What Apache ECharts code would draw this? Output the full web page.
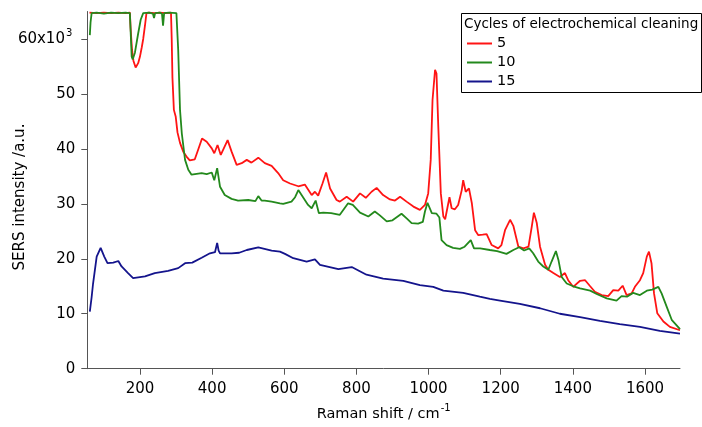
<!DOCTYPE html>
<html>
<head>
<meta charset="utf-8">
<script src="https://cdn.jsdelivr.net/npm/echarts@6/dist/echarts.min.js"></script>
<style>
  html, body { margin: 0; padding: 0; background: #fff; }
  #chart { width: 702px; height: 427px; }
</style>
</head>
<body>
<div id="chart"></div>
<script>
// SERS spectra after 5, 10 and 15 cycles of electrochemical cleaning.
// Raman shift in cm^-1, intensity in units of 10^3 counts.

const redShift = [60, 80, 100, 120, 140, 160, 172, 174, 178, 182, 188, 195, 200, 205, 209, 214, 218,
  225, 240, 255, 270, 286, 288, 290, 294, 299, 304, 311, 320, 329, 338, 352, 361, 372, 385, 399, 406,
  415, 424, 443, 454, 468, 482, 496, 509, 528, 546, 565, 583, 597, 616, 639, 657, 676, 685, 694, 706,
  716, 727, 745, 754, 773, 791, 810, 826, 842, 856, 874, 893, 907, 921, 939, 958, 976, 990, 999, 1006,
  1011, 1018, 1022, 1027, 1034, 1041, 1046, 1052, 1058, 1064, 1073, 1082, 1092, 1096, 1103, 1112, 1120,
  1129, 1138, 1150, 1161, 1175, 1193, 1202, 1212, 1226, 1235, 1249, 1263, 1277, 1286, 1292, 1300, 1309,
  1323, 1332, 1346, 1364, 1378, 1387, 1401, 1420, 1434, 1448, 1461, 1480, 1498, 1512, 1526, 1538, 1549,
  1563, 1572, 1586, 1595, 1605, 1611, 1618, 1625, 1634, 1651, 1669, 1697];
const redIntensity = [64.8, 64.7, 64.8, 64.7, 64.8, 64.7, 64.8, 62.0, 58.0, 56.0, 54.8, 55.6, 56.8, 58.5, 60.0, 62.5, 64.7,
  64.8, 64.7, 64.8, 64.7, 64.8, 60.0, 53.0, 47.1, 45.9, 43.0, 41.1, 39.5, 38.6, 37.9, 38.1, 39.8, 41.9, 41.3, 40.1, 39.2,
  40.7, 38.9, 41.6, 39.5, 37.1, 37.4, 38.0, 37.5, 38.4, 37.4, 36.9, 35.6, 34.3, 33.7, 33.2, 33.5, 31.6, 32.2, 31.5, 33.7,
  35.7, 32.8, 30.7, 30.4, 31.3, 30.4, 31.9, 31.1, 32.2, 32.9, 31.6, 30.8, 30.6, 31.3, 30.4, 29.5, 28.9, 29.8, 31.9, 38.0,
  48.9, 54.4, 53.7, 44.0, 31.9, 27.7, 27.2, 29.2, 31.2, 29.2, 29.0, 29.8, 32.5, 34.3, 32.2, 32.8, 30.1,
  25.2, 24.3, 24.4, 24.5, 22.5, 21.9, 22.5, 25.2, 27.1, 26.0, 22.2, 21.9, 22.2, 25.8, 28.4, 26.5, 22.2,
  18.9, 18.0, 17.4, 16.7, 17.4, 16.1, 14.9, 16.0, 16.1, 15.0, 14.0, 13.4, 13.2, 14.3, 14.2, 15.1, 13.4,
  13.7, 14.9, 16.1, 17.4, 20.4, 21.3, 19.2, 13.7, 10.1, 8.6, 7.6, 7.0];

const greenShift = [61, 63, 66, 80, 100, 120, 140, 160, 172, 175, 177, 180, 186, 195, 202, 209, 225, 236, 239,
  242, 255, 261, 264, 267, 280, 301, 306, 311, 316, 325, 334, 343, 371, 385, 399, 406, 414, 422, 435, 454,
  472, 500, 520, 528, 537, 546, 565, 588, 597, 620, 630, 639, 648, 666, 676, 687, 696, 708, 730, 754, 777,
  790, 810, 833, 851, 865, 884, 900, 925, 940, 953, 971, 984, 990, 997, 1009, 1022, 1030, 1036, 1050, 1068,
  1087, 1100, 1117, 1126, 1143, 1170, 1190, 1216, 1235, 1251, 1265, 1279, 1290, 1304, 1318, 1332, 1341,
  1353, 1360, 1369, 1383, 1401, 1420, 1448, 1466, 1494, 1521, 1535, 1550, 1567, 1586, 1605, 1620, 1637,
  1646, 1660, 1674, 1697];
const greenIntensity = [60.7, 63.0, 64.7, 64.8, 64.6, 64.8, 64.7, 64.8, 64.7, 60.0, 56.8, 56.3, 57.5, 61.0, 63.5, 64.7, 64.8, 64.6, 63.8,
  64.7, 64.8, 64.6, 62.4, 64.7, 64.8, 64.7, 58.0, 47.1, 42.8, 38.0, 36.2, 35.3, 35.6, 35.4, 35.7, 34.3, 36.5, 33.1, 31.6, 30.9,
  30.6, 30.7, 30.5, 31.4, 30.6, 30.6, 30.4, 30.1, 30.0, 30.4, 31.2, 32.5, 31.6, 29.8, 29.2, 30.6, 28.3, 28.4, 28.3, 28.0, 30.1,
  29.8, 28.4, 27.7, 28.6, 27.9, 26.8, 27.0, 28.2, 27.3, 26.5, 26.4, 26.7, 28.6, 30.2, 28.3, 28.2, 27.5, 23.4, 22.5, 22.0,
  21.8, 22.2, 23.4, 21.9, 21.9, 21.6, 21.4, 20.9, 21.6, 22.1, 21.5, 21.9, 21.0, 19.5, 18.6, 18.0, 19.5,
  21.4, 19.8, 16.7, 15.5, 15.0, 14.6, 14.2, 13.6, 12.8, 12.4, 13.2, 13.1, 13.8, 13.4, 14.2, 14.4, 14.9,
  13.7, 11.3, 8.9, 7.2];

const blueShift = [61, 66, 70, 80, 91, 101, 110, 126, 140, 149, 167, 181, 214, 241, 278, 306, 325, 345, 371,
  394, 408, 414, 418, 422, 454, 475, 496, 528, 565, 588, 602, 625, 662, 685, 699, 750, 787, 828, 874, 930,
  976, 1013, 1041, 1096, 1142, 1170, 1198, 1253, 1309, 1364, 1420, 1475, 1530, 1586, 1641, 1697];
const blueIntensity = [10.4, 13.0, 15.5, 20.4, 22.0, 20.4, 19.2, 19.3, 19.6, 18.6, 17.4, 16.5, 16.8, 17.4, 17.8, 18.3, 19.2, 19.3, 20.2,
  21.0, 21.2, 22.9, 21.5, 21.0, 21.0, 21.1, 21.6, 22.1, 21.5, 21.3, 20.9, 20.1, 19.5, 19.9, 18.9, 18.1, 18.5, 17.1, 16.4, 16.0,
  15.2, 14.9, 14.2, 13.8, 13.1, 12.7, 12.4, 11.8, 11.0, 10.0, 9.4, 8.7, 8.1, 7.6, 6.9, 6.4];

const seriesNames = ['5', '10', '15'];
const xTickValues = [200, 400, 600, 800, 1000, 1200, 1400, 1600];
const legendTitle = 'Cycles of electrochemical cleaning';
const yTitle = 'SERS intensity /a.u.';

const FONT = '"DejaVu Sans", Verdana, sans-serif';
const zip = (xs, ys) => xs.map((x, i) => [x, ys[i]]);

const chart = echarts.init(document.getElementById('chart'), null, { renderer: 'canvas' });

function spectrum(name, xs, ys, color) {
  return {
    name: name,
    type: 'line',
    data: zip(xs, ys),
    showSymbol: false,
    symbol: 'none',
    lineStyle: { color: color, width: 1.8 },
    itemStyle: { color: color },
    animation: false
  };
}

chart.setOption({
  animation: false,
  grid: { left: 87.3, right: 22, top: 11.5, bottom: 58.3, containLabel: false, outerBoundsMode: 'none' },
  xAxis: {
    type: 'value',
    min: 54,
    max: 1697,
    name: '{a|Raman shift / cm}{s|-1}',
    nameLocation: 'middle',
    nameGap: 35,
    nameTextStyle: {
      rich: {
        a: { fontFamily: FONT, fontSize: 14.5, color: '#000' },
        s: { fontFamily: FONT, fontSize: 10, color: '#000', padding: [0, 0, 12, 1] }
      }
    },
    axisLine: { show: true, onZero: false, lineStyle: { color: '#555', width: 1 } },
    axisTick: { show: true, inside: false, length: 6, customValues: xTickValues, lineStyle: { color: '#555' } },
    axisLabel: {
      customValues: xTickValues,
      margin: 13,
      fontFamily: FONT,
      fontSize: 15,
      color: '#000',
      formatter: v => String(v)
    },
    splitLine: { show: false }
  },
  yAxis: {
    type: 'value',
    min: 0,
    max: 65,
    interval: 10,
    axisLine: { show: true, onZero: false, lineStyle: { color: '#555', width: 1 } },
    axisTick: { show: true, inside: false, length: 6, lineStyle: { color: '#555' } },
    axisLabel: {
      margin: 12,
      showMaxLabel: false,
      fontFamily: FONT,
      fontSize: 15,
      color: '#000',
      formatter: v => (v === 60 ? '{a|60x10}{s|3}' : '{a|' + v + '}'),
      rich: {
        a: { fontFamily: FONT, fontSize: 15, color: '#000' },
        s: { fontFamily: FONT, fontSize: 10, color: '#000', padding: [0, 3, 12, 1] }
      }
    },
    splitLine: { show: false }
  },
  legend: {
    data: seriesNames,
    orient: 'vertical',
    left: 467,
    top: 34,
    z: 10,
    padding: 0,
    itemGap: 0,
    itemWidth: 25,
    itemHeight: 2,
    icon: 'rect',
    textStyle: { fontFamily: FONT, fontSize: 14.5, color: '#000', lineHeight: 19 },
    selectedMode: false
  },
  graphic: [
    {
      type: 'text',
      x: 20,
      y: 197,
      rotation: Math.PI / 2,
      style: {
        text: yTitle,
        fontFamily: FONT,
        fontSize: 15,
        fill: '#000',
        align: 'center',
        verticalAlign: 'middle'
      }
    },
    {
      type: 'rect',
      left: 461,
      top: 13,
      z: 5,
      shape: { width: 240, height: 79 },
      style: { fill: '#fff', stroke: '#000', lineWidth: 1 }
    },
    {
      type: 'text',
      left: 464,
      top: 17,
      z: 6,
      style: { text: legendTitle, fontFamily: FONT, fontSize: 13.5, fill: '#000' }
    }
  ],
  series: [
    spectrum(seriesNames[0], redShift, redIntensity, '#ff1414'),
    spectrum(seriesNames[1], greenShift, greenIntensity, '#23891c'),
    spectrum(seriesNames[2], blueShift, blueIntensity, '#14148c')
  ]
});
</script>
</body>
</html>
